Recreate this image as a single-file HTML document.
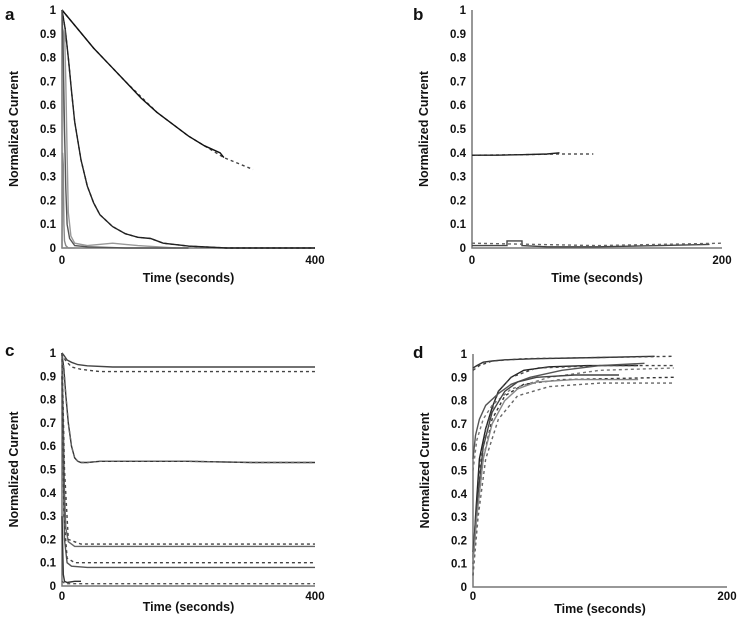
<!DOCTYPE html>
<html><head><meta charset="utf-8"><style>
body{margin:0;background:#fff;}
svg{display:block;font-family:"Liberation Sans",Arial,sans-serif;font-weight:bold;}
</style></head><body>
<svg id="fig" width="744" height="621" viewBox="0 0 744 621"></svg>
<script>
// Panel a data
const aSlowT=[0,25,50,75,100,125,150,175,200,225,250,256];
const aSlowV=[1,0.92,0.84,0.77,0.70,0.63,0.57,0.52,0.47,0.43,0.40,0.38];
const aSlowFitT=[0,50,100,150,200,256,302];
const aSlowFitV=[1,0.84,0.70,0.57,0.47,0.38,0.33];
const aMidT=[0,5,10,15,20,30,40,50,60,80,100,120,140,160,200,260,300,400];
const aMidV=[1,0.92,0.8,0.66,0.53,0.37,0.26,0.19,0.14,0.09,0.06,0.045,0.04,0.02,0.008,0,0,0];
const aFast1T=[0,2,4,6,8,10,14,20,40,80,120,180];
const aFast1V=[0.2,0.9,0.92,0.7,0.4,0.15,0.05,0.02,0.01,0.02,0.01,0];
const aFast2T=[0,2,4,6,8,12,20,40,100,200];
const aFast2V=[1,0.8,0.5,0.25,0.1,0.04,0.01,0.005,0,0];
const aFast3T=[0,1,2,3,4,6,10,20];
const aFast3V=[0,0.4,0.35,0.1,0.03,0.01,0,0];
// Panel b data
const bFlatT=[0,20,40,60,70];
const bFlatV=[0.39,0.39,0.392,0.395,0.4];
const bFlatFitT=[0,40,70,97];
const bFlatFitV=[0.39,0.392,0.395,0.395];
const bLow1T=[0,20,28,28,40,40,60,100,150,190];
const bLow1V=[0.01,0.01,0.01,0.03,0.03,0.01,0.005,0.005,0.01,0.015];
const bLow2T=[0,50,100,150,200];
const bLow2V=[0.02,0.015,0.01,0.015,0.02];
// Panel c data
const cTopT=[0,3,8,15,25,40,80,200,400];
const cTopV=[1,0.99,0.97,0.96,0.95,0.945,0.94,0.94,0.94];
const cTopFitT=[0,5,15,30,60,150,400];
const cTopFitV=[1,0.97,0.94,0.93,0.92,0.92,0.92];
const cMidT=[0,3,6,10,15,20,25,30,40,60,100,200,300,400];
const cMidV=[1,0.93,0.82,0.7,0.6,0.55,0.535,0.53,0.53,0.535,0.535,0.535,0.53,0.53];
const cLow1T=[0,2,4,6,10,20,40,100,200,400];
const cLow1V=[1,0.7,0.4,0.25,0.19,0.17,0.17,0.17,0.17,0.17];
const cLow1FitT=[0,4,10,30,100,400];
const cLow1FitV=[1,0.5,0.2,0.18,0.18,0.18];
const cLow2T=[0,2,4,8,15,40,100,400];
const cLow2V=[0.9,0.5,0.2,0.1,0.085,0.08,0.08,0.08];
const cLow2FitT=[0,3,8,20,100,400];
const cLow2FitV=[0.9,0.3,0.12,0.1,0.1,0.1];
const cLow3T=[0,2,4,8,20,30];
const cLow3V=[0.3,0.05,0.02,0.015,0.02,0.02];
const cLow3FitT=[0,5,20,100,400];
const cLow3FitV=[0.02,0.01,0.01,0.01,0.01];
// Panel d data
const dTopT=[0,3,8,15,25,50,100,143];
const dTopV=[0.94,0.95,0.965,0.97,0.975,0.98,0.985,0.99];
const dTopFitT=[0,5,15,40,100,158];
const dTopFitV=[0.93,0.95,0.97,0.98,0.985,0.99];
const dR1T=[0,2,5,10,15,20,30,40,60,90,130];
const dR1V=[0.1,0.3,0.55,0.68,0.77,0.84,0.9,0.93,0.945,0.95,0.95];
const dR1FitT=[0,2,5,10,20,30,50,100,158];
const dR1FitV=[0.05,0.25,0.5,0.68,0.84,0.9,0.94,0.95,0.95];
const dR2T=[0,2,5,10,20,30,45,70,100,135];
const dR2V=[0.55,0.65,0.72,0.78,0.83,0.87,0.9,0.93,0.95,0.96];
const dR2FitT=[0,3,8,15,30,60,100,158];
const dR2FitV=[0.5,0.63,0.72,0.78,0.85,0.9,0.93,0.94];
const dR3T=[0,3,8,15,25,35,50,80,100,115];
const dR3V=[0.15,0.35,0.6,0.75,0.84,0.88,0.9,0.91,0.91,0.91];
const dR3FitT=[0,3,8,15,25,40,70,158];
const dR3FitV=[0.1,0.3,0.55,0.72,0.82,0.87,0.89,0.9];
const dR4T=[0,3,8,15,25,35,50,80,110,130];
const dR4V=[0.1,0.3,0.55,0.7,0.8,0.85,0.88,0.89,0.89,0.89];
const dR4FitT=[0,4,10,20,35,60,100,158];
const dR4FitV=[0.05,0.3,0.55,0.72,0.82,0.86,0.875,0.875];

const xTicksA=["0","400"], xTicksB=["0","200"];
const yTicks=["0","0.1","0.2","0.3","0.4","0.5","0.6","0.7","0.8","0.9","1"];

const NS="http://www.w3.org/2000/svg";
const svg=document.getElementById('fig');
function mk(tag,attrs,parent){const e=document.createElementNS(NS,tag);for(const k in attrs)e.setAttribute(k,attrs[k]);(parent||svg).appendChild(e);return e;}

function panel(letter,lx,ly,x0,x1,y0,y1,xmax,xt,tickOff,titleOff,series){
  const g=mk('g',{});
  
  
  const xs=t=>x0+(t/xmax)*(x1-x0);
  const ys=v=>y0-v*(y0-y1);
  const L=mk('text',{x:lx,y:ly,'font-size':17,fill:'#111'},g);L.textContent=letter;
  
  
  const ax=mk('path',{d:`M${x0} ${y1}V${y0}H${x1}`,stroke:'#777',fill:'none','stroke-width':1.5},g);
  
  
  yTicks.forEach((s,i)=>{const v=i/10;
    const t=mk('text',{x:x0-6,y:ys(v)+4,'font-size':11.5,'text-anchor':'end',fill:'#111'},g);t.textContent=s;
    
    });
  [0,xmax].forEach((v,i)=>{const t=mk('text',{x:xs(v),y:y0+tickOff,'font-size':11.5,'text-anchor':'middle',fill:'#111'},g);t.textContent=xt[i];
    
    });
  const xt2=mk('text',{x:(x0+x1)/2,y:y0+titleOff,'font-size':12.5,'text-anchor':'middle',fill:'#111'},g);xt2.textContent='Time (seconds)';
  
  
  const cy=(y0+y1)/2, cx=x0-44;
  const yt=mk('text',{x:cx,y:cy,'font-size':12.5,'text-anchor':'middle',fill:'#111',transform:`rotate(-90 ${cx} ${cy})`},g);yt.textContent='Normalized Current';
  
  
  series.forEach(s=>{
    const d=s.t.map((t,i)=>(i?'L':'M')+xs(t).toFixed(1)+' '+ys(s.v[i]).toFixed(1)).join('');
    const p=mk('path',{d:d,fill:'none',stroke:s.c,'stroke-width':s.w||1.4,'stroke-dasharray':s.dash?'3 3':'none'},g);
    
    
  });
}
panel('a',5,20,62,315,248,10,400,xTicksA,16,34,[
  {t:aSlowFitT,v:aSlowFitV,c:'#444',dash:1,n:'a-slow-fit'},
  {t:aSlowT,v:aSlowV,c:'#111',n:'a-slow-trace'},
  {t:aMidT,v:aMidV,c:'#333',dash:1,n:'a-mid-fit'},
  {t:aMidT,v:aMidV,c:'#222',n:'a-mid-trace'},
  {t:aFast1T,v:aFast1V,c:'#999',n:'a-fast-trace-1'},
  {t:aFast2T,v:aFast2V,c:'#555',n:'a-fast-trace-2'},
  {t:aFast3T,v:aFast3V,c:'#888',n:'a-fast-trace-3'}]);
panel('b',413,20,472,722,248,10,200,xTicksB,16,34,[
  {t:bFlatFitT,v:bFlatFitV,c:'#555',dash:1,n:'b-flat-fit'},
  {t:bFlatT,v:bFlatV,c:'#222',n:'b-flat-trace'},
  {t:bLow1T,v:bLow1V,c:'#444',n:'b-low-trace'},
  {t:bLow2T,v:bLow2V,c:'#666',dash:1,n:'b-low-fit'}]);
panel('c',5,356,62,315,586,353,400,xTicksA,14,25,[
  {t:cTopT,v:cTopV,c:'#444',n:'c-top-trace'},
  {t:cTopFitT,v:cTopFitV,c:'#444',dash:1,n:'c-top-fit'},
  {t:cMidT,v:cMidV,c:'#333',n:'c-mid-trace'},
  {t:cMidT,v:cMidV,c:'#666',dash:1,n:'c-mid-fit'},
  {t:cLow1T,v:cLow1V,c:'#666',n:'c-low1-trace'},
  {t:cLow1FitT,v:cLow1FitV,c:'#444',dash:1,n:'c-low1-fit'},
  {t:cLow2T,v:cLow2V,c:'#555',n:'c-low2-trace'},
  {t:cLow2FitT,v:cLow2FitV,c:'#444',dash:1,n:'c-low2-fit'},
  {t:cLow3T,v:cLow3V,c:'#333',n:'c-low3-trace'},
  {t:cLow3FitT,v:cLow3FitV,c:'#555',dash:1,n:'c-low3-fit'}]);
panel('d',413,358,473,727,587,354,200,xTicksB,13,26,[
  {t:dTopT,v:dTopV,c:'#333',n:'d-top-trace'},
  {t:dTopFitT,v:dTopFitV,c:'#444',dash:1,n:'d-top-fit'},
  {t:dR1T,v:dR1V,c:'#222',n:'d-rise1-trace'},
  {t:dR1FitT,v:dR1FitV,c:'#444',dash:1,n:'d-rise1-fit'},
  {t:dR2T,v:dR2V,c:'#555',n:'d-rise2-trace'},
  {t:dR2FitT,v:dR2FitV,c:'#777',dash:1,n:'d-rise2-fit'},
  {t:dR3T,v:dR3V,c:'#444',n:'d-rise3-trace'},
  {t:dR3FitT,v:dR3FitV,c:'#333',dash:1,n:'d-rise3-fit'},
  {t:dR4T,v:dR4V,c:'#888',n:'d-rise4-trace'},
  {t:dR4FitT,v:dR4FitV,c:'#666',dash:1,n:'d-rise4-fit'}]);
</script>
</body></html>
